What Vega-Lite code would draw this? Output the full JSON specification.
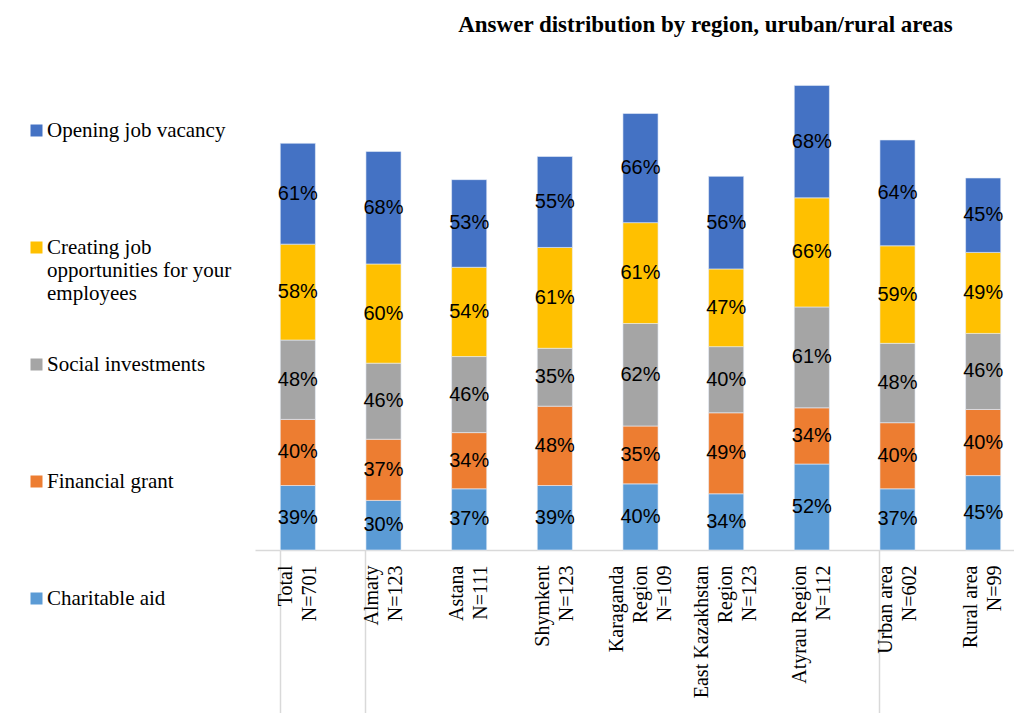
{
  "$schema": "https://vega.github.io/schema/vega-lite/v6.json",
  "width": 771,
  "height": 496,
  "autosize": "none",
  "padding": {"left": 255, "top": 54, "right": 0, "bottom": 163},
  "background": "white",
  "title": {
    "text": "Answer distribution by region, uruban/rural areas",
    "font": "Liberation Serif",
    "fontSize": 23,
    "fontWeight": "bold",
    "color": "black",
    "anchor": "middle",
    "dx": 65,
    "offset": 17
  },
  "config": {"view": {"stroke": null}},
  "data": {
    "values": [
      {"r": "Total|N=701", "s": "Charitable aid", "k": 1, "v": 0.39},
      {"r": "Total|N=701", "s": "Financial grant", "k": 2, "v": 0.40},
      {"r": "Total|N=701", "s": "Social investments", "k": 3, "v": 0.48},
      {"r": "Total|N=701", "s": "Creating job opportunities for your employees", "k": 4, "v": 0.58},
      {"r": "Total|N=701", "s": "Opening job vacancy", "k": 5, "v": 0.61},
      {"r": "Almaty|N=123", "s": "Charitable aid", "k": 1, "v": 0.30},
      {"r": "Almaty|N=123", "s": "Financial grant", "k": 2, "v": 0.37},
      {"r": "Almaty|N=123", "s": "Social investments", "k": 3, "v": 0.46},
      {"r": "Almaty|N=123", "s": "Creating job opportunities for your employees", "k": 4, "v": 0.60},
      {"r": "Almaty|N=123", "s": "Opening job vacancy", "k": 5, "v": 0.68},
      {"r": "Astana|N=111", "s": "Charitable aid", "k": 1, "v": 0.37},
      {"r": "Astana|N=111", "s": "Financial grant", "k": 2, "v": 0.34},
      {"r": "Astana|N=111", "s": "Social investments", "k": 3, "v": 0.46},
      {"r": "Astana|N=111", "s": "Creating job opportunities for your employees", "k": 4, "v": 0.54},
      {"r": "Astana|N=111", "s": "Opening job vacancy", "k": 5, "v": 0.53},
      {"r": "Shymkent|N=123", "s": "Charitable aid", "k": 1, "v": 0.39},
      {"r": "Shymkent|N=123", "s": "Financial grant", "k": 2, "v": 0.48},
      {"r": "Shymkent|N=123", "s": "Social investments", "k": 3, "v": 0.35},
      {"r": "Shymkent|N=123", "s": "Creating job opportunities for your employees", "k": 4, "v": 0.61},
      {"r": "Shymkent|N=123", "s": "Opening job vacancy", "k": 5, "v": 0.55},
      {"r": "Karaganda|Region|N=109", "s": "Charitable aid", "k": 1, "v": 0.40},
      {"r": "Karaganda|Region|N=109", "s": "Financial grant", "k": 2, "v": 0.35},
      {"r": "Karaganda|Region|N=109", "s": "Social investments", "k": 3, "v": 0.62},
      {"r": "Karaganda|Region|N=109", "s": "Creating job opportunities for your employees", "k": 4, "v": 0.61},
      {"r": "Karaganda|Region|N=109", "s": "Opening job vacancy", "k": 5, "v": 0.66},
      {"r": "East Kazakhstan|Region|N=123", "s": "Charitable aid", "k": 1, "v": 0.34},
      {"r": "East Kazakhstan|Region|N=123", "s": "Financial grant", "k": 2, "v": 0.49},
      {"r": "East Kazakhstan|Region|N=123", "s": "Social investments", "k": 3, "v": 0.40},
      {"r": "East Kazakhstan|Region|N=123", "s": "Creating job opportunities for your employees", "k": 4, "v": 0.47},
      {"r": "East Kazakhstan|Region|N=123", "s": "Opening job vacancy", "k": 5, "v": 0.56},
      {"r": "Atyrau Region|N=112", "s": "Charitable aid", "k": 1, "v": 0.52},
      {"r": "Atyrau Region|N=112", "s": "Financial grant", "k": 2, "v": 0.34},
      {"r": "Atyrau Region|N=112", "s": "Social investments", "k": 3, "v": 0.61},
      {"r": "Atyrau Region|N=112", "s": "Creating job opportunities for your employees", "k": 4, "v": 0.66},
      {"r": "Atyrau Region|N=112", "s": "Opening job vacancy", "k": 5, "v": 0.68},
      {"r": "Urban area|N=602", "s": "Charitable aid", "k": 1, "v": 0.37},
      {"r": "Urban area|N=602", "s": "Financial grant", "k": 2, "v": 0.40},
      {"r": "Urban area|N=602", "s": "Social investments", "k": 3, "v": 0.48},
      {"r": "Urban area|N=602", "s": "Creating job opportunities for your employees", "k": 4, "v": 0.59},
      {"r": "Urban area|N=602", "s": "Opening job vacancy", "k": 5, "v": 0.64},
      {"r": "Rural area|N=99", "s": "Charitable aid", "k": 1, "v": 0.45},
      {"r": "Rural area|N=99", "s": "Financial grant", "k": 2, "v": 0.40},
      {"r": "Rural area|N=99", "s": "Social investments", "k": 3, "v": 0.46},
      {"r": "Rural area|N=99", "s": "Creating job opportunities for your employees", "k": 4, "v": 0.49},
      {"r": "Rural area|N=99", "s": "Opening job vacancy", "k": 5, "v": 0.45}
    ]
  },
  "encoding": {
    "x": {
      "field": "r",
      "type": "nominal",
      "sort": null,
      "scale": {"paddingInner": 0.59, "paddingOuter": 0.295},
      "axis": {
        "title": null,
        "labelAngle": -90,
        "labelExpr": "split(datum.label, '|')",
        "labelFont": "Liberation Serif",
        "labelFontSize": 20,
        "labelLineHeight": 24,
        "labelColor": "black",
        "labelPadding": -150,
        "labelLimit": 300,
        "labelOffset": {
          "condition": {"test": "datum.value == 'Karaganda|Region|N=109' || datum.value == 'East Kazakhstan|Region|N=123'", "value": -24},
          "value": -12
        },
        "domainColor": "#d9d9d9",
        "domainWidth": 1.5,
        "bandPosition": 0,
        "tickSize": 165,
        "tickWidth": 1.5,
        "tickColor": {
          "condition": {"test": "indexof(['Total|N=701', 'Almaty|N=123', 'Urban area|N=602'], datum.value) >= 0", "value": "#d9d9d9"},
          "value": "transparent"
        }
      }
    },
    "y": {
      "field": "v",
      "type": "quantitative",
      "stack": "zero",
      "scale": {"domain": [0, 3], "nice": false},
      "axis": null
    },
    "order": {"field": "k", "type": "quantitative"}
  },
  "layer": [
    {
      "mark": {"type": "bar", "stroke": "#e8eef8", "strokeWidth": 0.6},
      "encoding": {
        "color": {
          "field": "s",
          "type": "nominal",
          "scale": {
            "domain": ["Opening job vacancy", "Creating job opportunities for your employees", "Social investments", "Financial grant", "Charitable aid"],
            "range": ["#4472C4", "#FFC000", "#A5A5A5", "#ED7D31", "#5B9BD5"]
          },
          "legend": {
            "title": null,
            "orient": "none",
            "legendX": -229,
            "legendY": 66,
            "padding": 0,
            "symbolType": "square",
            "symbolSize": 144,
            "symbolStrokeWidth": 0,
            "labelFont": "Liberation Serif",
            "labelFontSize": 21,
            "labelLineHeight": 23.5,
            "labelColor": "black",
            "labelLimit": 260,
            "labelOffset": 0,
            "rowPadding": 49,
            "labelExpr": "datum.label == 'Creating job opportunities for your employees' ? ['Creating job', 'opportunities for your', 'employees'] : [datum.label, '', '']"
          }
        }
      }
    },
    {
      "mark": {"type": "text", "font": "Liberation Sans", "fontSize": 20, "color": "black"},
      "encoding": {
        "y": {"field": "v", "type": "quantitative", "stack": "zero", "bandPosition": 0.5},
        "text": {"field": "v", "type": "quantitative", "format": ".0%"}
      }
    }
  ]
}
